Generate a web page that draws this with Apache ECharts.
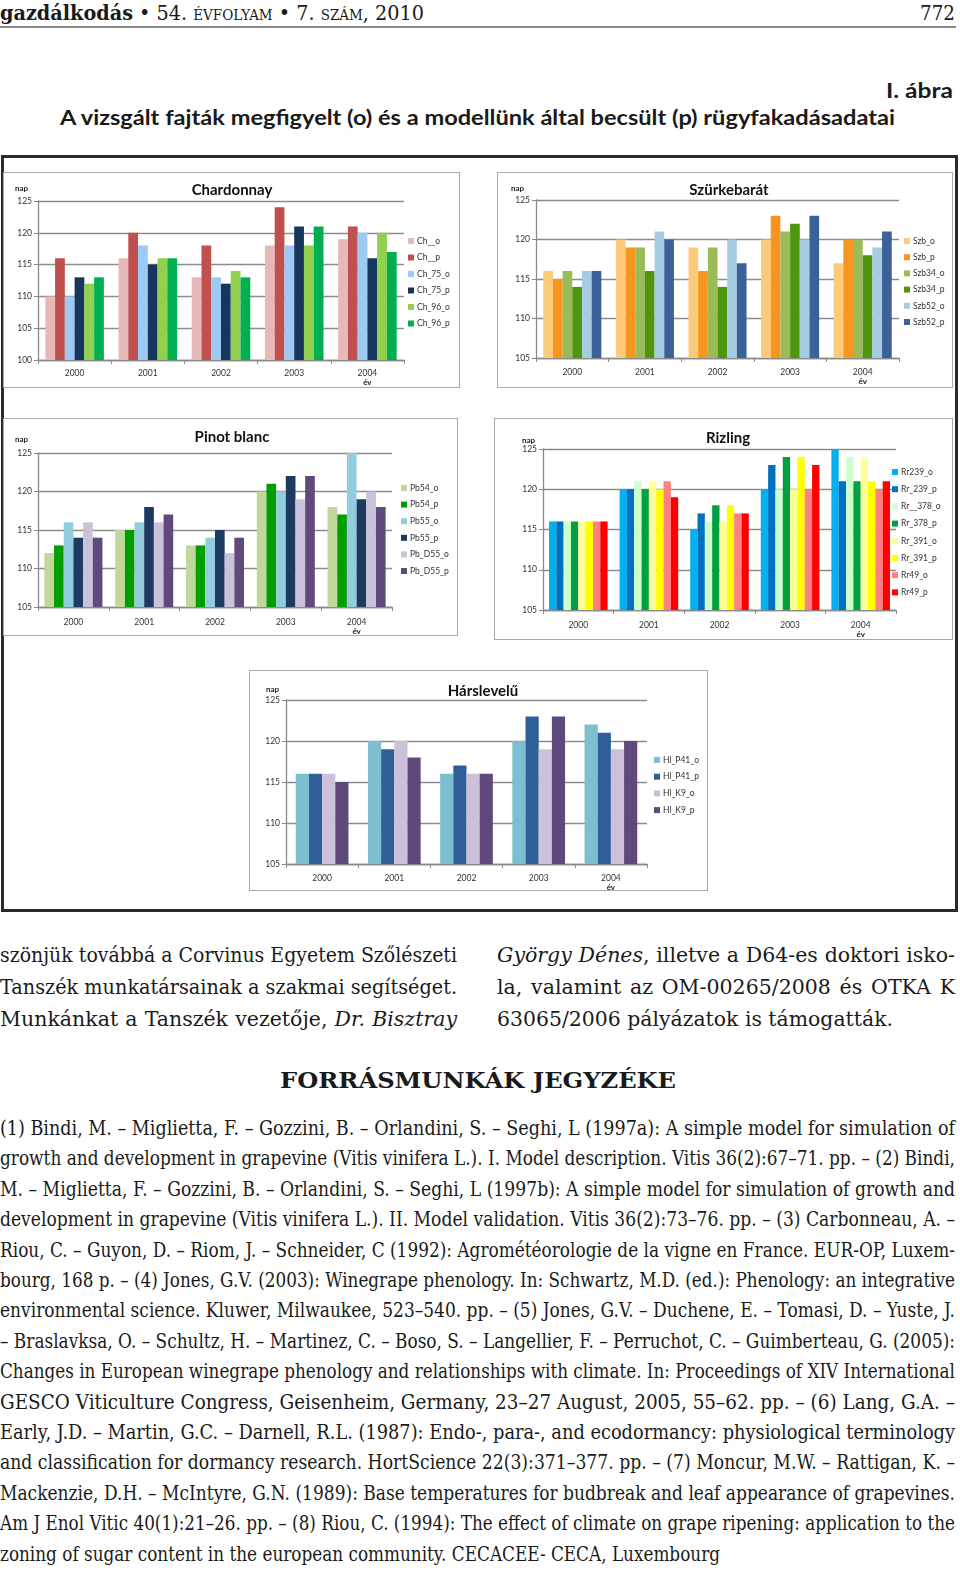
<!DOCTYPE html>
<html><head><meta charset="utf-8">
<script src="https://cdn.jsdelivr.net/npm/echarts@6/dist/echarts.min.js"></script>
<style>
html,body{margin:0;padding:0;background:#fff;overflow:hidden;width:960px;height:1577px;}
#page{width:960px;height:1577px;position:relative;overflow:hidden;font-family:'DejaVu Serif','Liberation Serif',serif;color:#1a1a1a;}
.ln{position:absolute;white-space:nowrap;transform-origin:0 50%;}
.sans{font-family:'Lato','Open Sans',sans-serif;font-weight:bold;}
.sc{font-variant:small-caps;}
.chart{position:absolute;border:1.5px solid #a9a9a9;box-sizing:border-box;background:#fff;}
#frame{position:absolute;left:1px;top:155px;width:957px;height:757px;border:3px solid #2a2a2a;box-sizing:border-box;}
#hline{position:absolute;left:0;top:26px;width:956px;height:2px;background:#8a8a8a;}
</style></head><body>
<script>
// ---------- DATA ----------
const years = ['2000', '2001', '2002', '2003', '2004'];
const yTicksA = [100, 105, 110, 115, 120, 125];
const yTicksB = [105, 110, 115, 120, 125];

const chardonnaySeries = ['Ch__o', 'Ch__p', 'Ch_75_o', 'Ch_75_p', 'Ch_96_o', 'Ch_96_p'];
const chardonnayValues = [
  [110, 116, 113, 118, 119],
  [116, 120, 118, 124, 121],
  [110, 118, 113, 118, 120],
  [113, 115, 112, 121, 116],
  [112, 116, 114, 118, 120],
  [113, 116, 113, 121, 117]
];
const szurkebaratSeries = ['Szb_o', 'Szb_p', 'Szb34_o', 'Szb34_p', 'Szb52_o', 'Szb52_p'];
const szurkebaratValues = [
  [116, 120, 119, 120, 117],
  [115, 119, 116, 123, 120],
  [116, 119, 119, 121, 120],
  [114, 116, 114, 122, 118],
  [116, 121, 120, 120, 119],
  [116, 120, 117, 123, 121]
];
const pinotSeries = ['Pb54_o', 'Pb54_p', 'Pb55_o', 'Pb55_p', 'Pb_D55_o', 'Pb_D55_p'];
const pinotValues = [
  [112, 115, 113, 120, 118],
  [113, 115, 113, 121, 117],
  [116, 116, 114, 120, 125],
  [114, 118, 115, 122, 119],
  [116, 116, 112, 119, 120],
  [114, 117, 114, 122, 118]
];
const rizlingSeries = ['Rr239_o', 'Rr_239_p', 'Rr__378_o', 'Rr_378_p', 'Rr_391_o', 'Rr_391_p', 'Rr49_o', 'Rr49_p'];
const rizlingValues = [
  [116, 120, 115, 120, 125],
  [116, 120, 117, 123, 121],
  [116, 121, 116, 120, 124],
  [116, 120, 118, 124, 121],
  [116, 121, 116, 120, 124],
  [116, 120, 118, 124, 121],
  [116, 121, 117, 120, 120],
  [116, 119, 117, 123, 121]
];
const harsleveluSeries = ['Hl_P41_o', 'Hl_P41_p', 'Hl_K9_o', 'Hl_K9_p'];
const harsleveluValues = [
  [116, 120, 116, 120, 122],
  [116, 119, 117, 123, 121],
  [116, 120, 116, 119, 119],
  [115, 118, 116, 123, 120]
];

// ---------- STYLES ----------
const chardonnayColors = ['#E6B9B8', '#C0504D', '#9DC9F5', '#17365D', '#92D050', '#00B050'];
const szurkebaratColors = ['#FCCB79', '#F7961E', '#9BBB59', '#4E960E', '#A5CCE3', '#3A6298'];
const pinotColors = ['#C3D69B', '#009E00', '#93CDDD', '#1F3A60', '#CCC1DA', '#604A7B'];
const rizlingColors = ['#00B0F0', '#0070C0', '#CCFFCC', '#00A040', '#FFFF99', '#FFFF00', '#FF8080', '#FF0000'];
const harsleveluColors = ['#7BBFD0', '#2F5F98', '#CCC0DA', '#5F497A'];
</script>
<div id="page">
<div class="ln" data-x="0" data-y="13" data-w="424" style="font-size:20px"><b>gazdálkodás</b> • 54. <span class="sc">évfolyam</span> • 7. <span class="sc">szám</span>, 2010</div>
<div class="ln" data-x="920" data-y="13" data-w="35" style="font-size:20px">772</div>
<div id="hline"></div>

<div class="ln sans" data-x="886" data-y="90" data-w="67" style="font-size:20px">I. ábra</div>
<div class="ln sans" data-x="60" data-y="117" data-w="835" style="font-size:20px">A vizsgált fajták megfigyelt (o) és a modellünk által becsült (p) rügyfakadásadatai</div>

<div id="frame"></div>
<div class="chart" id="c1" style="left:3px;top:172px;width:457px;height:216px"></div>
<div class="chart" id="c2" style="left:497px;top:172px;width:456px;height:216px"></div>
<div class="chart" id="c3" style="left:3px;top:418px;width:455px;height:218px"></div>
<div class="chart" id="c4" style="left:494px;top:418px;width:459px;height:222px"></div>
<div class="chart" id="c5" style="left:249px;top:670px;width:459px;height:221px"></div>

<div class="ln" data-x="0" data-y="955" data-w="457" data-j="1" style="font-size:20.5px">szönjük továbbá a Corvinus Egyetem Szőlészeti</div>
<div class="ln" data-x="0" data-y="987" data-w="457" data-j="1" style="font-size:20.5px">Tanszék munkatársainak a szakmai segítséget.</div>
<div class="ln" data-x="0" data-y="1019" data-w="457" data-j="1" style="font-size:20.5px">Munkánkat a Tanszék vezetője, <i>Dr. Bisztray</i></div>
<div class="ln" data-x="497" data-y="955" data-w="458" data-j="1" style="font-size:20.5px"><i>György Dénes</i>, illetve a D64-es doktori isko-</div>
<div class="ln" data-x="497" data-y="987" data-w="458" data-j="1" style="font-size:20.5px">la, valamint az OM-00265/2008 és OTKA K</div>
<div class="ln" data-x="497" data-y="1019" data-w="396" style="font-size:20.5px">63065/2006 pályázatok is támogatták.</div>

<div class="ln" data-x="280" data-y="1080" data-w="396" style="font-size:22px;font-weight:bold">FORRÁSMUNKÁK JEGYZÉKE</div>

<div class="ln" data-x="0" data-y="1128" data-w="955" data-j="1" style="font-size:20px">(1) Bindi, M. – Miglietta, F. – Gozzini, B. – Orlandini, S. – Seghi, L (1997a): A simple model for simulation of</div>
<div class="ln" data-x="0" data-y="1158" data-w="955" data-j="1" style="font-size:20px">growth and development in grapevine (Vitis vinifera L.). I. Model description. Vitis 36(2):67–71. pp. – (2) Bindi,</div>
<div class="ln" data-x="0" data-y="1189" data-w="955" data-j="1" style="font-size:20px">M. – Miglietta, F. – Gozzini, B. – Orlandini, S. – Seghi, L (1997b): A simple model for simulation of growth and</div>
<div class="ln" data-x="0" data-y="1219" data-w="955" data-j="1" style="font-size:20px">development in grapevine (Vitis vinifera L.). II. Model validation. Vitis 36(2):73–76. pp. – (3) Carbonneau, A. –</div>
<div class="ln" data-x="0" data-y="1250" data-w="955" data-j="1" style="font-size:20px">Riou, C. – Guyon, D. – Riom, J. – Schneider, C (1992): Agrométéorologie de la vigne en France. EUR-OP, Luxem-</div>
<div class="ln" data-x="0" data-y="1280" data-w="955" data-j="1" style="font-size:20px">bourg, 168 p. – (4) Jones, G.V. (2003): Winegrape phenology. In: Schwartz, M.D. (ed.): Phenology: an integrative</div>
<div class="ln" data-x="0" data-y="1310" data-w="955" data-j="1" style="font-size:20px">environmental science. Kluwer, Milwaukee, 523–540. pp. – (5) Jones, G.V. – Duchene, E. – Tomasi, D. – Yuste, J.</div>
<div class="ln" data-x="0" data-y="1341" data-w="955" data-j="1" style="font-size:20px">– Braslavksa, O. – Schultz, H. – Martinez, C. – Boso, S. – Langellier, F. – Perruchot, C. – Guimberteau, G. (2005):</div>
<div class="ln" data-x="0" data-y="1371" data-w="955" data-j="1" style="font-size:20px">Changes in European winegrape phenology and relationships with climate. In: Proceedings of XIV International</div>
<div class="ln" data-x="0" data-y="1402" data-w="955" data-j="1" style="font-size:20px">GESCO Viticulture Congress, Geisenheim, Germany, 23–27 August, 2005, 55–62. pp. – (6) Lang, G.A. –</div>
<div class="ln" data-x="0" data-y="1432" data-w="955" data-j="1" style="font-size:20px">Early, J.D. – Martin, G.C. – Darnell, R.L. (1987): Endo-, para-, and ecodormancy: physiological terminology</div>
<div class="ln" data-x="0" data-y="1462" data-w="955" data-j="1" style="font-size:20px">and classification for dormancy research. HortScience 22(3):371–377. pp. – (7) Moncur, M.W. – Rattigan, K. –</div>
<div class="ln" data-x="0" data-y="1493" data-w="955" data-j="1" style="font-size:20px">Mackenzie, D.H. – McIntyre, G.N. (1989): Base temperatures for budbreak and leaf appearance of grapevines.</div>
<div class="ln" data-x="0" data-y="1523" data-w="955" data-j="1" style="font-size:20px">Am J Enol Vitic 40(1):21–26. pp. – (8) Riou, C. (1994): The effect of climate on grape ripening: application to the</div>
<div class="ln" data-x="0" data-y="1554" data-w="720" style="font-size:20px">zoning of sugar content in the european community. CECACEE- CECA, Luxembourg</div>
</div>
<script>
// fit text lines
document.querySelectorAll('.ln').forEach(function (el) {
  const fs = parseFloat(el.style.fontSize);
  const lh = fs * 1.3;
  el.style.lineHeight = lh + 'px';
  el.style.left = el.dataset.x + 'px';
  el.style.top = (el.dataset.y - lh / 2) + 'px';
  const T = +el.dataset.w;
  const w = el.getBoundingClientRect().width;
  if (el.dataset.j && w < T) {
    const spaces = (el.textContent.match(/ /g) || []).length;
    if (spaces) el.style.wordSpacing = ((T - w) / spaces) + 'px';
  } else {
    el.style.transform = 'scaleX(' + (T / w) + ')';
  }
});

const FONT = 'Lato';
function makeChart(id, names, colors, values, ticks, o) {
  const chart = echarts.init(document.getElementById(id));
  chart.setOption({
    animation: false,
    color: colors,
    title: {
      text: o.title, left: o.titleX, top: o.titleY, textAlign: 'center', padding: 0,
      textStyle: { fontFamily: FONT, fontWeight: 'bold', fontSize: 15, color: '#111' }
    },
    legend: {
      orient: 'vertical', left: o.legX, top: o.legY, padding: 0,
      itemWidth: 6, itemHeight: 6, itemGap: o.legGap, icon: 'rect',
      data: names,
      textStyle: { fontFamily: FONT, fontSize: 8.5, lineHeight: 10, color: '#333', padding: [0, 0, 0, -2] }
    },
    graphic: [{
      type: 'text', left: o.napX, top: o.napY,
      style: { text: 'nap', font: 'bold 8px ' + FONT, fill: '#222' }
    }],
    grid: { left: o.g[0], top: o.g[1], right: o.g[2], bottom: o.g[3], containLabel: false, outerBoundsMode: 'none' },
    xAxis: {
      type: 'category', data: years,
      axisLine: { lineStyle: { color: '#8a8a8a', width: 1.3 } },
      axisTick: { show: true, length: 4, lineStyle: { color: '#8a8a8a' } },
      axisLabel: {
        margin: o.xm, fontFamily: FONT, fontSize: 8.5, lineHeight: 9, color: '#333',
        formatter: function (v) { return v === '2004' ? '{a|2004}\n{b|év}' : v; },
        rich: { a: { fontSize: 8.5, lineHeight: 9, fontFamily: FONT, color: '#333' },
                b: { fontSize: 8, lineHeight: 9, fontWeight: 'bold', fontFamily: FONT, color: '#222' } }
      }
    },
    yAxis: {
      type: 'value', min: ticks[0], max: ticks[ticks.length - 1], interval: 5,
      axisLine: { show: true, lineStyle: { color: '#8a8a8a', width: 1.3 } },
      axisTick: { show: true, length: 4, lineStyle: { color: '#8a8a8a' } },
      axisLabel: { margin: 6, fontFamily: FONT, fontSize: 8.5, color: '#333' },
      splitLine: { lineStyle: { color: '#8c8c8c', width: 1.3 } }
    },
    series: names.map(function (n, i) {
      return { name: n, type: 'bar', data: values[i], barGap: '0%', barCategoryGap: o.gap };
    })
  });
}

makeChart('c1', chardonnaySeries, chardonnayColors, chardonnayValues, yTicksA,
  { title: 'Chardonnay', titleX: 228, titleY: 10, legX: 404, legY: 63, legGap: 6.5,
    napX: 11, napY: 11, g: [34, 28, 55, 27], xm: 9, gap: '20%' });
makeChart('c2', szurkebaratSeries, szurkebaratColors, szurkebaratValues, yTicksB,
  { title: 'Szürkebarát', titleX: 231, titleY: 10, legX: 406, legY: 63, legGap: 6.2,
    napX: 13, napY: 11, g: [38, 27, 53, 29], xm: 10, gap: '20%' });
makeChart('c3', pinotSeries, pinotColors, pinotValues, yTicksB,
  { title: 'Pinot blanc', titleX: 228, titleY: 11, legX: 397, legY: 64, legGap: 6.6,
    napX: 11, napY: 16, g: [34, 34, 65, 28], xm: 11, gap: '18%' });
makeChart('c4', rizlingSeries, rizlingColors, rizlingValues, yTicksB,
  { title: 'Rizling', titleX: 233, titleY: 12, legX: 397, legY: 48, legGap: 7.2,
    napX: 27, napY: 17, g: [48, 30, 56, 29], xm: 11, gap: '17%' });
makeChart('c5', harsleveluSeries, harsleveluColors, harsleveluValues, yTicksB,
  { title: 'Hárslevelű', titleX: 233, titleY: 13, legX: 404, legY: 84, legGap: 6.7,
    napX: 16, napY: 14, g: [36, 29, 60, 26], xm: 10, gap: '27%' });
</script>
</body></html>
